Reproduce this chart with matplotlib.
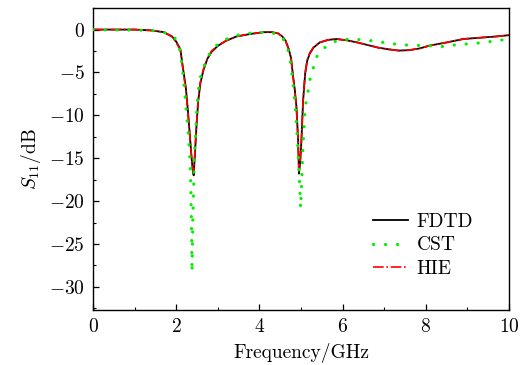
import matplotlib
matplotlib.use("Agg")
import matplotlib.pyplot as plt
from matplotlib.ticker import MultipleLocator

plt.rcParams['font.family'] = 'serif'
plt.rcParams['font.serif'] = ['cmr10']
plt.rcParams['mathtext.fontset'] = 'cm'
plt.rcParams['axes.formatter.use_mathtext'] = True
plt.rcParams['axes.unicode_minus'] = True

# FDTD
f_fdtd = [0, 0.5, 1.0, 1.4, 1.7, 1.9, 2.0, 2.1, 2.16, 2.23, 2.28, 2.33, 2.37, 2.40, 2.42,
          2.45, 2.49, 2.53, 2.58, 2.65, 2.75, 2.85, 3.0, 3.2, 3.45, 3.8, 4.1, 4.3, 4.45,
          4.55, 4.63, 4.7, 4.76, 4.81, 4.85, 4.89, 4.93, 4.95, 4.98, 5.01, 5.05, 5.10,
          5.15, 5.21, 5.3, 5.45, 5.65, 5.85, 6.1, 6.35, 6.6, 6.85, 7.1, 7.35, 7.6, 7.85,
          8.1, 8.5, 8.9, 9.3, 9.7, 10.0]
s_fdtd = [0, 0, 0.0, -0.1, -0.3, -0.8, -1.4, -2.3, -4.4, -6.7, -9.4, -12.5, -15.0, -16.5,
          -17.0, -14.5, -11.0, -8.3, -6.3, -4.8, -3.4, -2.6, -1.9, -1.3, -0.8, -0.5, -0.3,
          -0.3, -0.45, -0.8, -1.3, -2.2, -3.3, -5.5, -7.0, -9.0, -12.9, -16.8, -15.5,
          -12.9, -8.3, -5.1, -3.6, -2.8, -2.1, -1.5, -1.2, -1.1, -1.25, -1.5, -1.8, -2.1,
          -2.3, -2.45, -2.4, -2.2, -1.86, -1.5, -1.1, -0.95, -0.8, -0.65]

# CST
f_cst = [0, 0.5, 1.0, 1.4, 1.7, 1.97, 2.09, 2.16, 2.22, 2.29, 2.33, 2.35, 2.37, 2.38,
         2.40, 2.44, 2.50, 2.56, 2.66, 2.75, 2.91, 3.1, 3.37, 3.6, 3.92, 4.2, 4.41, 4.52,
         4.62, 4.72, 4.80, 4.87, 4.92, 4.96, 4.99, 5.02, 5.05, 5.10, 5.15, 5.21, 5.37,
         5.57, 5.85, 6.17, 6.48, 6.8, 7.1, 7.45, 7.77, 8.09, 8.39, 8.7, 9.0, 9.31, 9.61,
         10.0]
s_cst = [0, -0.05, -0.05, -0.1, -0.3, -1.0, -2.4, -5.0, -8.2, -12.1, -15.2, -18.3, -23.6,
         -28.3, -22.0, -14.6, -8.8, -5.9, -4.4, -3.2, -2.1, -1.3, -0.8, -0.5, -0.35, -0.3,
         -0.5, -0.8, -1.4, -2.9, -5.9, -9.5, -13.5, -17.5, -20.8, -17.0, -13.3, -9.0,
         -7.8, -5.9, -3.2, -2.1, -1.3, -1.1, -1.2, -1.35, -1.6, -1.79, -1.83, -1.9, -1.98,
         -1.79, -1.67, -1.55, -1.36, -1.1]

# HIE
f_hie = [0, 0.5, 1.0, 1.4, 1.7, 1.9, 2.0, 2.1, 2.16, 2.23, 2.28, 2.33, 2.37, 2.40, 2.42,
         2.45, 2.49, 2.53, 2.58, 2.65, 2.75, 2.85, 3.0, 3.2, 3.45, 3.8, 4.1, 4.3, 4.45,
         4.55, 4.63, 4.7, 4.76, 4.81, 4.85, 4.89, 4.93, 4.95, 4.98, 5.01, 5.05, 5.10,
         5.15, 5.21, 5.3, 5.45, 5.65, 5.85, 6.1, 6.35, 6.6, 6.85, 7.1, 7.35, 7.6, 7.85,
         8.1, 8.5, 8.9, 9.3, 9.7, 10.0]
s_hie = [0, 0, 0.0, -0.1, -0.3, -0.85, -1.5, -2.4, -4.6, -7.0, -9.6, -12.6, -14.9, -16.3,
         -16.6, -14.2, -10.8, -8.1, -6.1, -4.7, -3.3, -2.5, -1.85, -1.3, -0.8, -0.5, -0.3,
         -0.3, -0.45, -0.8, -1.35, -2.3, -3.4, -5.6, -7.2, -9.2, -13.1, -16.5, -15.3,
         -12.7, -8.1, -5.0, -3.5, -2.7, -2.05, -1.5, -1.2, -1.1, -1.25, -1.5, -1.8, -2.1,
         -2.3, -2.45, -2.4, -2.2, -1.86, -1.5, -1.1, -0.95, -0.8, -0.65]

FS = 14

fig = plt.figure(figsize=(5.26, 3.65), dpi=100)
ax = fig.add_axes([0.1768, 0.1507, 0.791, 0.827])

ax.plot(f_fdtd, s_fdtd, color='black', lw=1.3, label='FDTD', zorder=2)
ax.plot(f_cst, s_cst, color='#00f000', lw=2.3, linestyle=(0, (0.05, 3.7)),
        dash_capstyle='round', label='CST', zorder=4)
ax.plot(f_hie, s_hie, color='red', lw=1.2, linestyle='-.', label='HIE', zorder=3)

ax.set_xlim(0, 10)
ax.set_ylim(-32.7, 2.5)
ax.xaxis.set_major_locator(MultipleLocator(2))
ax.xaxis.set_minor_locator(MultipleLocator(1))
ax.yaxis.set_major_locator(MultipleLocator(5))
ax.yaxis.set_minor_locator(MultipleLocator(2.5))
ax.tick_params(which='both', direction='in', top=False, right=False, labelsize=FS)
ax.tick_params(which='major', length=4.5, width=0.9)
ax.tick_params(axis='x', which='major', pad=6)
ax.tick_params(axis='y', which='major', pad=6)
ax.tick_params(which='minor', length=2.5, width=0.8)
for sp in ax.spines.values():
    sp.set_linewidth(1.0)

ax.set_xlabel('Frequency/GHz', fontsize=FS, labelpad=5)
ax.set_ylabel(r'$S_{11}$/dB', fontsize=FS, labelpad=4)

leg = ax.legend(loc='upper left', frameon=False, fontsize=FS, handlelength=1.8,
                handletextpad=0.45, bbox_to_anchor=(0.673, 0.322),
                borderaxespad=0, borderpad=0, labelspacing=0.3)

fig.savefig('out.png', dpi=100)
